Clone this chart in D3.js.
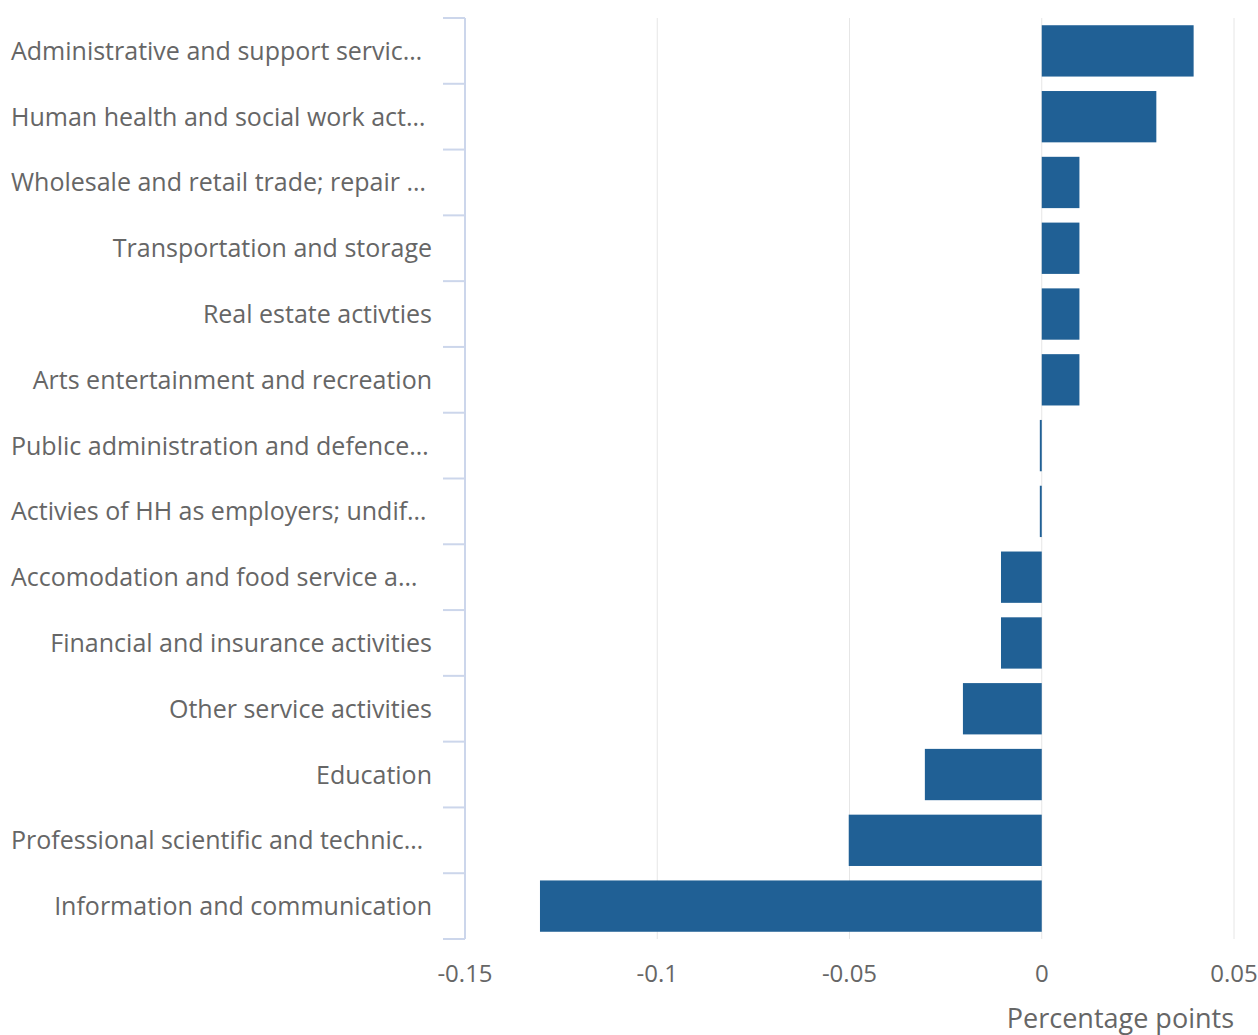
<!DOCTYPE html>
<html><head><meta charset="utf-8">
<script src="https://cdn.jsdelivr.net/npm/d3@7"></script>
<style>body{margin:0;background:#fff;} svg{display:block;font-family:"Open Sans",sans-serif;}</style>
</head><body>
<svg id="c" width="1258" height="1035"></svg>
<script>
const categories = [
  "Administrative and support servic…",
  "Human health and social work act…",
  "Wholesale and retail trade; repair …",
  "Transportation and storage",
  "Real estate activties",
  "Arts entertainment and recreation",
  "Public administration and defence…",
  "Activies of HH as employers; undif…",
  "Accomodation and food service a…",
  "Financial and insurance activities",
  "Other service activities",
  "Education",
  "Professional scientific and technic…",
  "Information and communication"
];
const values = [0.0395, 0.0298, 0.0098, 0.0098, 0.0098, 0.0098, -0.0005, -0.0005, -0.0106, -0.0106, -0.0205, -0.0304, -0.0502, -0.1305];
const xTicks = [-0.15, -0.1, -0.05, 0, 0.05];
const xTickLabels = ["-0.15", "-0.1", "-0.05", "0", "0.05"];
const axisTitle = "Percentage points";

(function () {
const svg = d3.select("#c");
const mL = 465, mR = 1234, mT = 18, mB = 939;
const x = d3.scaleLinear().domain([-0.15, 0.05]).range([mL, mR]);
const y = d3.scaleBand().domain(categories).range([mT, mB]).paddingInner(0.22).paddingOuter(0.11);
const step = (mB - mT) / categories.length;

svg.append("g").selectAll("line").data(xTicks).join("line")
  .attr("x1", d => x(d)).attr("x2", d => x(d)).attr("y1", mT).attr("y2", mB)
  .attr("stroke", "#e6e6e6").attr("stroke-width", 1);

svg.append("g").selectAll("rect").data(values).join("rect")
  .attr("x", d => x(Math.min(0, d)))
  .attr("width", d => Math.max(1.5, Math.abs(x(d) - x(0))))
  .attr("y", (d, i) => y(categories[i]))
  .attr("height", y.bandwidth())
  .attr("fill", "#206095");

svg.append("line").attr("x1", mL).attr("x2", mL).attr("y1", mT).attr("y2", mB)
  .attr("stroke", "#ccd6eb").attr("stroke-width", 2);
svg.append("g").selectAll("line").data(d3.range(categories.length + 1)).join("line")
  .attr("x1", mL - 22).attr("x2", mL).attr("y1", i => mT + i * step).attr("y2", i => mT + i * step)
  .attr("stroke", "#ccd6eb").attr("stroke-width", 2);

svg.append("g").selectAll("text").data(categories).join("text")
  .attr("x", d => d.endsWith("…") ? 11 : 432)
  .attr("text-anchor", d => d.endsWith("…") ? "start" : "end")
  .attr("y", d => y(d) + y.bandwidth() / 2)
  .attr("dy", "0.36em")
  .attr("font-size", 25).attr("fill", "#666")
  .text(d => d);

svg.append("g").selectAll("text").data(xTicks).join("text")
  .attr("x", d => x(d)).attr("y", 982)
  .attr("text-anchor", "middle").attr("font-size", 24).attr("fill", "#666")
  .text((d, i) => xTickLabels[i]);

svg.append("text").attr("x", mR).attr("y", 1028).attr("text-anchor", "end")
  .attr("font-size", 27).attr("fill", "#666").text(axisTitle);
})();
</script>
</body></html>
